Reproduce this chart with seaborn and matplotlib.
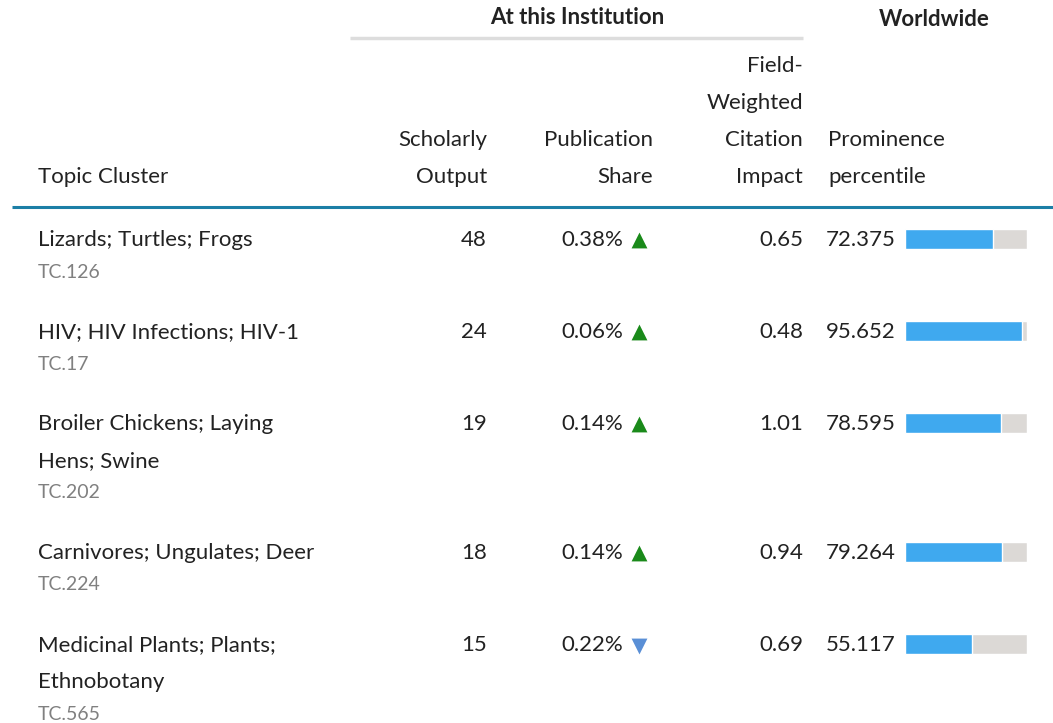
import pandas as pd
import seaborn as sns
import matplotlib.pyplot as plt

# Table data
topics = ["Lizards; Turtles; Frogs",
          "HIV; HIV Infections; HIV-1",
          "Broiler Chickens; Laying\nHens; Swine",
          "Carnivores; Ungulates; Deer",
          "Medicinal Plants; Plants;\nEthnobotany"]
codes = ["TC.126", "TC.17", "TC.202", "TC.224", "TC.565"]
scholarly_output = [48, 24, 19, 18, 15]
pub_share = [0.38, 0.06, 0.14, 0.14, 0.22]
share_trend = ["up", "up", "up", "up", "down"]
fwci = [0.65, 0.48, 1.01, 0.94, 0.69]
prominence = [72.375, 95.652, 78.595, 79.264, 55.117]

sns.set_theme(style="white")
plt.rcParams["font.family"] = ["Lato", "DejaVu Sans"]

W, H = 1053, 723
fig = plt.figure(figsize=(W / 100, H / 100), dpi=100)
ax = fig.add_axes([0, 0, 1, 1])
ax.set_xlim(0, W)
ax.set_ylim(H, 0)
ax.axis("off")

dark = "#222222"
fs = 16
line_h = 37

# Group headers
ax.text(577, 17, "At this Institution", ha="center", va="center",
        fontsize=16, fontweight="bold", color=dark)
ax.plot([350, 803], [38, 38], color="#dddddd", lw=2.5, solid_capstyle="butt")
ax.text(934, 19, "Worldwide", ha="center", va="center",
        fontsize=16, fontweight="bold", color=dark)

# Column headers (bottom line at y=176)
def header(x, lines, ha):
    n = len(lines)
    for i, s in enumerate(lines):
        ax.text(x, 177 - (n - 1 - i) * line_h, s, ha=ha, va="center",
                fontsize=fs, color=dark)

header(38, ["Topic Cluster"], "left")
header(487, ["Scholarly", "Output"], "right")
header(653, ["Publication", "Share"], "right")
header(803, ["Field-", "Weighted", "Citation", "Impact"], "right")
header(828, ["Prominence", "percentile"], "left")

ax.plot([12, W], [207, 207], color="#1c7fa6", lw=2.2, solid_capstyle="butt")

# Rows
row_y = []
y = 239
for t in topics:
    row_y.append(y)
    n = t.count("\n") + 1
    y += 92 + (n - 1) * line_h

for i, yy in enumerate(row_y):
    lines = topics[i].split("\n")
    for j, s in enumerate(lines):
        ax.text(38, yy + 1 + j * line_h, s, ha="left", va="center",
                fontsize=fs, color=dark)
    ax.text(38, yy + (len(lines) - 1) * line_h + 33, codes[i], ha="left",
            va="center", fontsize=14, color="#808080")
    ax.text(487, yy + 1, f"{scholarly_output[i]}", ha="right", va="center",
            fontsize=fs, color=dark)
    ax.text(623, yy + 1, f"{pub_share[i]:.2f}%", ha="right", va="center",
            fontsize=fs, color=dark)
    if share_trend[i] == "up":
        ax.scatter(639, yy + 1, marker="^", s=130, color="#1a8a1a",
                   linewidths=0, zorder=3)
    else:
        ax.scatter(639, yy + 2, marker="v", s=130, color="#5a8fd6",
                   linewidths=0, zorder=3)
    ax.text(803, yy + 1, f"{fwci[i]:.2f}", ha="right", va="center",
            fontsize=fs, color=dark)
    ax.text(826, yy + 1, f"{prominence[i]:.3f}", ha="left", va="center",
            fontsize=fs, color=dark)

# Prominence bars
bar_ax = fig.add_axes([905 / W, 0, 122 / W, 1])
df = pd.DataFrame({"y": row_y, "pct": prominence, "full": [100] * len(row_y)})
rel_w = 20 / 92
sns.barplot(data=df, x="full", y="y", orient="h", native_scale=True,
            color="#dcd9d6", saturation=1, width=rel_w, ax=bar_ax)
sns.barplot(data=df, x="pct", y="y", orient="h", native_scale=True,
            color="#3fa9ef", saturation=1, width=rel_w, ax=bar_ax)
bar_ax.set_xlim(0, 100)
bar_ax.set_ylim(H, 0)
bar_ax.axis("off")

fig.savefig("out.png", dpi=100)
